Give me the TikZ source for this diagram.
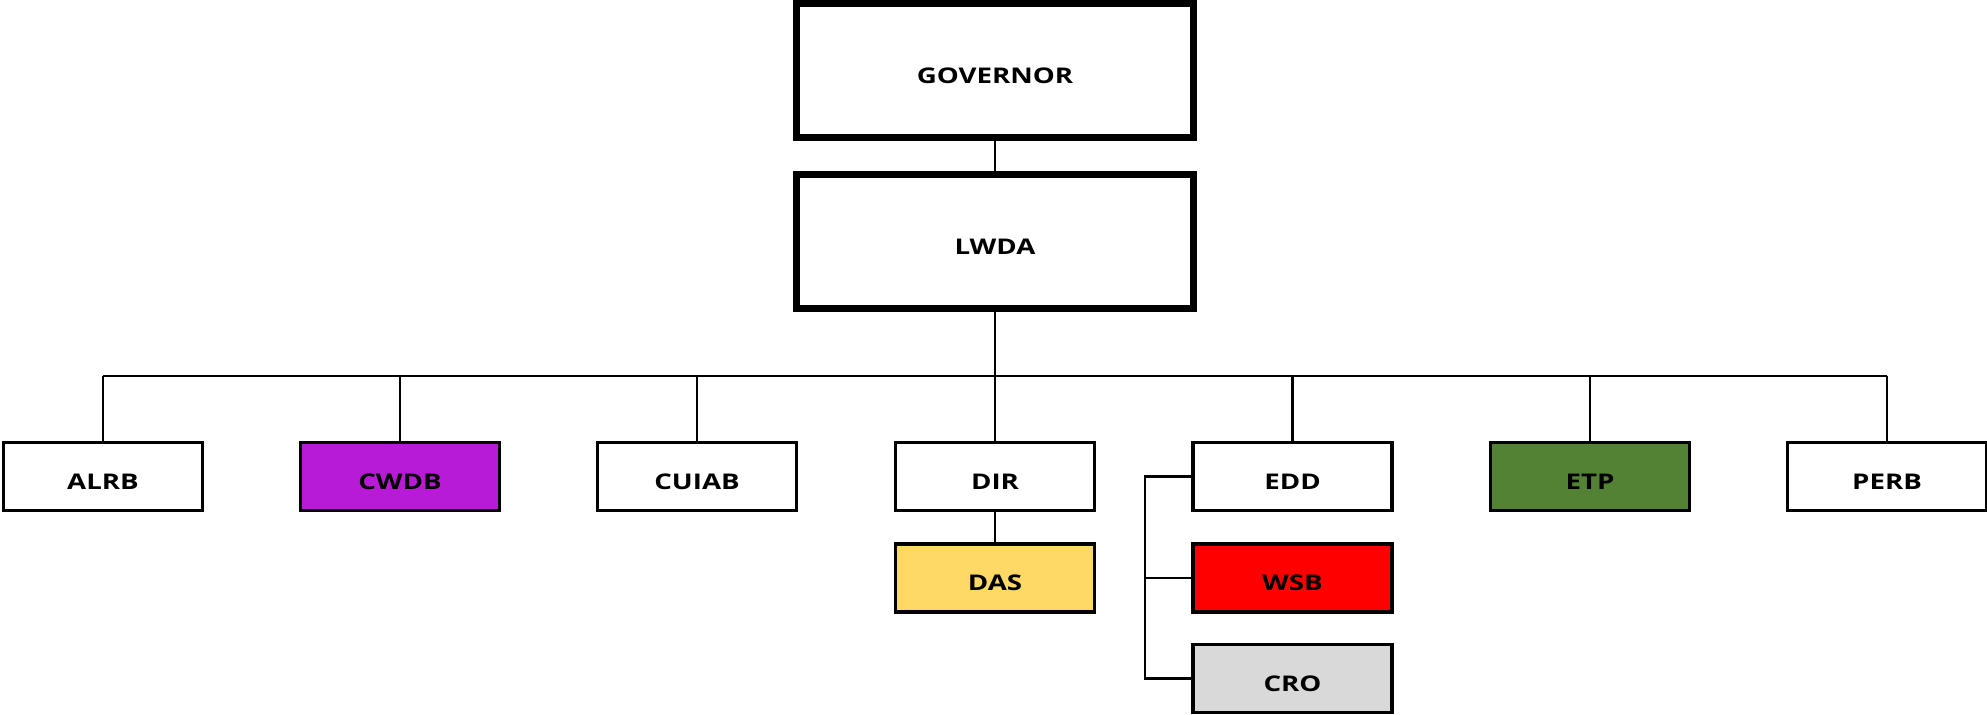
\documentclass[tikz,border=0pt]{standalone}
\usepackage{fontspec}
\setmainfont{Open Sans}[FakeStretch=1.28]
\usetikzlibrary{positioning}

\definecolor{cwdbpurple}{HTML}{B81BD6}
\definecolor{etpgreen}{HTML}{548235}
\definecolor{wsbred}{HTML}{FF0000}
\definecolor{crogray}{HTML}{D9D9D9}
\definecolor{dasyellow}{HTML}{FFD966}

\tikzset{
  topbox/.style={draw, line width=3.6pt, minimum width=7.94cm, minimum height=2.68cm,
    text height=0.5cm, text depth=0pt, font=\fontsize{12.3}{14}\selectfont\bfseries},
  unitbox/.style={draw, line width=1.9pt, minimum width=3.98cm, minimum height=1.36cm,
    text height=0.5cm, text depth=0pt, font=\fontsize{12.3}{14}\selectfont\bfseries},
  link/.style={line width=1.6pt},
  thinlink/.style={line width=1.2pt}
}

\begin{document}
\begin{tikzpicture}
        % ==== DEFINITIONS ====
        \def\rowy{-9.53} % row of units
        \def\busy{-7.52} % horizontal bus
        \useasboundingbox (0,0) rectangle (39.74,-14.28);

        % ==== TOP ====
        \node[topbox] (gov) at (19.9,-1.41) {GOVERNOR};
        \node[topbox] (lwda) at (19.9,-4.83) {LWDA};

        % ==== UNITS ====
        \node[unitbox] (alrb) at (2.06,\rowy) {ALRB};
        \node[unitbox, fill=cwdbpurple] (cwdb) at (8.0,\rowy) {CWDB};
        \node[unitbox] (cuiab) at (13.94,\rowy) {CUIAB};
        \node[unitbox] (dir) at (19.9,\rowy) {DIR};
        \node[unitbox] (edd) at (25.85,\rowy) {EDD};
        \node[unitbox, fill=etpgreen] (etp) at (31.8,\rowy) {ETP};
        \node[unitbox] (perb) at (37.74,\rowy) {PERB};

        % ==== SUB UNITS ====
        \node[unitbox, fill=dasyellow] (das) at (19.9,-11.56) {DAS};
        \node[unitbox, fill=wsbred] (wsb) at (25.85,-11.56) {WSB};
        \node[unitbox, fill=crogray] (cro) at (25.85,-13.57) {CRO};

        % ==== CONNECTORS ====
        \coordinate (bus) at (19.9,\busy);
        \coordinate (brk) at (22.9,\rowy);
        \draw[link] (gov) -- (lwda);
        \draw[link] (lwda) -- (dir);
        \draw[link] (alrb.north |- bus) -- (perb.north |- bus);
        \draw[link] (alrb.north) -- (alrb.north |- bus);
        \draw[link] (cwdb.north) -- (cwdb.north |- bus);
        \draw[link] (cuiab.north) -- (cuiab.north |- bus);
        \draw[link] (edd.north) -- (edd.north |- bus);
        \draw[link] (etp.north) -- (etp.north |- bus);
        \draw[link] (perb.north) -- (perb.north |- bus);
        \draw[link] (dir) -- (das);

        % ==== EDD BRACKET ====
        \draw[thinlink] (edd.west) -- (edd.west -| brk) -- (cro.west -| brk) -- (cro.west);
        \draw[thinlink] (wsb.west -| brk) -- (wsb.west);

    \end{tikzpicture}
\end{document}
